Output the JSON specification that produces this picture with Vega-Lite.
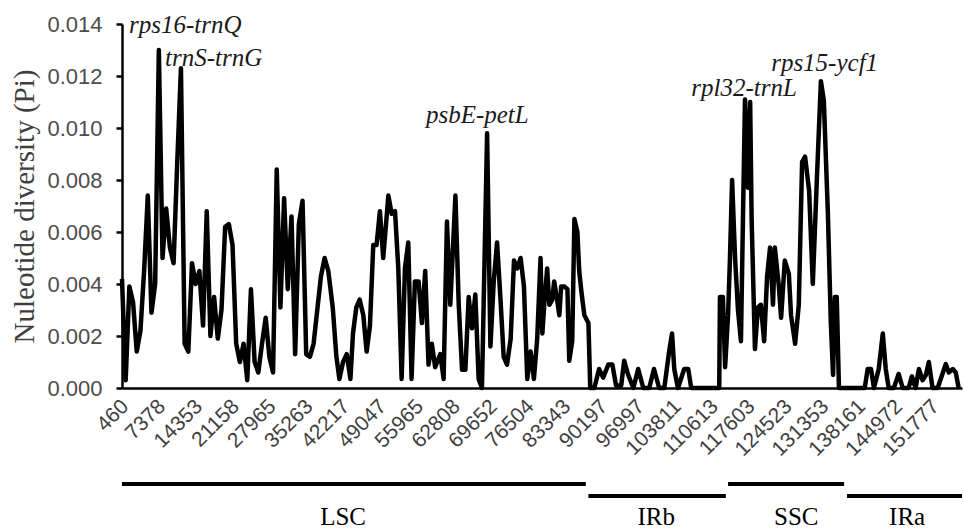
{
  "$schema": "https://vega.github.io/schema/vega-lite/v6.json",
  "background": "white",
  "padding": {"left": 10, "top": 12, "right": 0, "bottom": 0},
  "config": {"view": {"stroke": null}, "font": "Liberation Sans"},
  "spacing": 96,
  "bounds": "flush",
  "vconcat": [
    {
      "width": 840,
      "height": 364,
      "layer": [
        {
          "data": {"values": [
            {"w":0,"pi":0.0042},{"w":1,"pi":0.0003},{"w":2,"pi":0.0039},{"w":3,"pi":0.0033},{"w":4,"pi":0.0014},{"w":5,"pi":0.0022},{"w":6,"pi":0.0045},{"w":7,"pi":0.0074},{"w":8,"pi":0.0029},{"w":9,"pi":0.0040},
            {"w":10,"pi":0.0130},{"w":11,"pi":0.0050},{"w":12,"pi":0.0069},{"w":13,"pi":0.0054},{"w":14,"pi":0.0048},{"w":15,"pi":0.0087},{"w":16,"pi":0.0123},{"w":17,"pi":0.0017},{"w":18,"pi":0.0014},{"w":19,"pi":0.0048},
            {"w":20,"pi":0.0040},{"w":21,"pi":0.0045},{"w":22,"pi":0.0024},{"w":23,"pi":0.0068},{"w":24,"pi":0.0020},{"w":25,"pi":0.0035},{"w":26,"pi":0.0019},{"w":27,"pi":0.0030},{"w":28,"pi":0.0062},{"w":29,"pi":0.0063},
            {"w":30,"pi":0.0055},{"w":31,"pi":0.0017},{"w":32,"pi":0.0010},{"w":33,"pi":0.0017},{"w":34,"pi":0.0003},{"w":35,"pi":0.0038},{"w":36,"pi":0.0010},{"w":37,"pi":0.0006},{"w":38,"pi":0.0017},{"w":39,"pi":0.0027},
            {"w":40,"pi":0.0012},{"w":41,"pi":0.0006},{"w":42,"pi":0.0084},{"w":43,"pi":0.0031},{"w":44,"pi":0.0073},{"w":45,"pi":0.0038},{"w":46,"pi":0.0066},{"w":47,"pi":0.0013},{"w":48,"pi":0.0063},{"w":49,"pi":0.0072},
            {"w":50,"pi":0.0013},{"w":51,"pi":0.0012},{"w":52,"pi":0.0017},{"w":53,"pi":0.0030},{"w":54,"pi":0.0043},{"w":55,"pi":0.0050},{"w":56,"pi":0.0045},{"w":57.2,"pi":0.0031},{"w":58.2,"pi":0.0012},{"w":59,"pi":0.00035},
            {"w":60,"pi":0.0010},{"w":61,"pi":0.0013},{"w":62,"pi":0.00035},{"w":62.7,"pi":0.0021},{"w":63.6,"pi":0.0031},{"w":64.5,"pi":0.0034},{"w":65.5,"pi":0.0028},{"w":66.4,"pi":0.0014},{"w":67.3,"pi":0.0024},{"w":68.2,"pi":0.0055},
            {"w":69.1,"pi":0.0055},{"w":70,"pi":0.0068},{"w":70.9,"pi":0.0050},{"w":72.3,"pi":0.0074},{"w":73.2,"pi":0.0067},{"w":74.1,"pi":0.0068},{"w":75,"pi":0.0046},{"w":75.9,"pi":0.00035},{"w":76.8,"pi":0.0046},{"w":77.7,"pi":0.0056},
            {"w":78.6,"pi":0.00035},{"w":79.5,"pi":0.0041},{"w":80.5,"pi":0.0041},{"w":81.4,"pi":0.0025},{"w":82.3,"pi":0.0045},{"w":83.2,"pi":0.0009},{"w":84.1,"pi":0.0017},{"w":85,"pi":0.0008},{"w":86.4,"pi":0.0013},{"w":87.3,"pi":0.00035},
            {"w":88.2,"pi":0.0064},{"w":89.1,"pi":0.0032},{"w":90.5,"pi":0.0074},{"w":91.4,"pi":0.0032},{"w":92.3,"pi":0.0007},{"w":93.2,"pi":0.0007},{"w":94.1,"pi":0.0035},{"w":95,"pi":0.0023},{"w":95.9,"pi":0.0036},{"w":96.8,"pi":0.00035},
            {"w":97.7,"pi":0.0},{"w":99.1,"pi":0.0098},{"w":100,"pi":0.0016},{"w":100.9,"pi":0.0041},{"w":101.8,"pi":0.0056},{"w":102.7,"pi":0.0035},{"w":103.6,"pi":0.0012},{"w":104.5,"pi":0.0009},{"w":105.5,"pi":0.0019},{"w":106.4,"pi":0.0049},
            {"w":107.3,"pi":0.0046},{"w":108.2,"pi":0.0050},{"w":109.1,"pi":0.0039},{"w":110,"pi":0.00035},{"w":110.9,"pi":0.0014},{"w":111.8,"pi":0.00035},{"w":112.7,"pi":0.0019},{"w":113.6,"pi":0.0050},{"w":114.1,"pi":0.0021},{"w":114.6,"pi":0.0032},
            {"w":115.4,"pi":0.0046},{"w":116,"pi":0.0032},{"w":116.8,"pi":0.0034},{"w":117.3,"pi":0.0041},{"w":118.2,"pi":0.0033},{"w":118.7,"pi":0.0028},{"w":119.2,"pi":0.0039},{"w":120.1,"pi":0.0039},{"w":120.9,"pi":0.0038},{"w":121.4,"pi":0.00105},
            {"w":122.2,"pi":0.0018},{"w":122.8,"pi":0.0065},{"w":123.6,"pi":0.0060},{"w":124.1,"pi":0.0045},{"w":124.7,"pi":0.0037},{"w":125.5,"pi":0.0028},{"w":126.6,"pi":0.0025},{"w":127.1,"pi":0.0},{"w":128.2,"pi":0.0},{"w":129.5,"pi":0.00073},
            {"w":130.6,"pi":0.0004},{"w":132,"pi":0.0009},{"w":133.1,"pi":0.0009},{"w":134.1,"pi":0.0001},{"w":135.5,"pi":0.0001},{"w":136.3,"pi":0.00105},{"w":137.4,"pi":0.0005},{"w":138.8,"pi":0.0},{"w":140.1,"pi":0.00073},{"w":141.5,"pi":0.0},
            {"w":143.1,"pi":0.0},{"w":144.4,"pi":0.00073},{"w":145.8,"pi":0.0},{"w":147.2,"pi":0.0},{"w":148.5,"pi":0.0014},{"w":149.3,"pi":0.0021},{"w":149.9,"pi":0.00073},{"w":150.9,"pi":0.0},{"w":152.6,"pi":0.00073},{"w":153.7,"pi":0.00073},
            {"w":154.5,"pi":0.0},{"w":162.1,"pi":0.0},{"w":162.3,"pi":0.0035},{"w":163.1,"pi":0.0035},{"w":163.7,"pi":0.0008},{"w":164.5,"pi":0.0028},{"w":165,"pi":0.0049},{"w":165.6,"pi":0.0080},{"w":166.4,"pi":0.0050},{"w":167.2,"pi":0.0030},
            {"w":168,"pi":0.0018},{"w":168.6,"pi":0.0070},{"w":169.1,"pi":0.0111},{"w":169.9,"pi":0.0077},{"w":170.5,"pi":0.0110},{"w":170.9,"pi":0.0065},{"w":171.8,"pi":0.0015},{"w":172.6,"pi":0.0031},{"w":173.4,"pi":0.0032},{"w":174.3,"pi":0.0018},
            {"w":175.1,"pi":0.0043},{"w":175.9,"pi":0.0054},{"w":176.7,"pi":0.0032},{"w":177.2,"pi":0.0054},{"w":178.3,"pi":0.0039},{"w":178.9,"pi":0.0027},{"w":179.9,"pi":0.0049},{"w":181,"pi":0.0044},{"w":181.6,"pi":0.0028},{"w":182.7,"pi":0.0017},
            {"w":183.7,"pi":0.0032},{"w":184.6,"pi":0.0087},{"w":185.4,"pi":0.0089},{"w":186.5,"pi":0.0076},{"w":187.5,"pi":0.0040},{"w":188.6,"pi":0.0080},{"w":189.7,"pi":0.0118},{"w":190.5,"pi":0.01105},{"w":191.6,"pi":0.0067},{"w":192.4,"pi":0.0025},
            {"w":193,"pi":0.0005},{"w":193.5,"pi":0.0035},{"w":194,"pi":0.0035},{"w":194.6,"pi":0.0},{"w":201.6,"pi":0.0},{"w":202.4,"pi":0.00073},{"w":203.3,"pi":0.00073},{"w":204.1,"pi":0.0},{"w":205.4,"pi":0.00073},{"w":206.5,"pi":0.0021},
            {"w":207.3,"pi":0.00073},{"w":208.1,"pi":0.0},{"w":209.5,"pi":0.0},{"w":210.8,"pi":0.00054},{"w":211.9,"pi":0.0},{"w":213.5,"pi":0.0},{"w":214.4,"pi":0.00045},{"w":215.4,"pi":0.0},{"w":216.3,"pi":0.00073},{"w":217.3,"pi":0.0003},
            {"w":218.2,"pi":0.0005},{"w":219,"pi":0.0010},{"w":220,"pi":0.0},{"w":221.4,"pi":0.0},{"w":223.6,"pi":0.00092},{"w":224.4,"pi":0.0006},{"w":225.5,"pi":0.00073},{"w":226.3,"pi":0.0006},{"w":227.1,"pi":0.0}
          ]},
          "mark": {"type": "line", "color": "black", "strokeWidth": 4.5, "strokeJoin": "round"},
          "encoding": {
            "x": {
              "field": "w", "type": "quantitative",
              "scale": {"domain": [0, 228], "nice": false, "zero": false},
              "axis": {
                "values": [0,10,20,30,40,50,60,70,80,90,100,110,120,130,140,150,160,170,180,190,200,210,220],
                "tickCount": 40,
                "labelExpr": "['460','7378','14353','21158','27965','35263','42217','49047','55965','62808','69652','76504','83343','90197','96997','103811','110613','117603','124523','131353','138161','144972','151777'][round(datum.value/10)]",
                "labelAngle": -45, "labelAlign": "right", "labelBaseline": "middle",
                "labelFont": "Liberation Sans", "labelFontSize": 21, "labelColor": "#3f3f3f",
                "labelPadding": 15, "labelOffset": 3, "labelOverlap": false, "labelFlush": false, "labelBound": false,
                "ticks": false, "domainColor": "black", "domainWidth": 2.5, "grid": false, "title": null
              }
            },
            "y": {
              "field": "pi", "type": "quantitative",
              "scale": {"domain": [0, 0.014], "nice": false},
              "axis": {
                "values": [0,0.002,0.004,0.006,0.008,0.010,0.012,0.014],
                "format": ".3f",
                "title": "Nuleotide diversity (Pi)",
                "titleFont": "Liberation Serif", "titleFontSize": 29, "titleFontWeight": "normal", "titleColor": "#3f3f3f", "titlePadding": 7,
                "labelFont": "Liberation Sans", "labelFontSize": 22, "labelColor": "#4d4d4d", "labelPadding": 14,
                "tickSize": 6, "tickWidth": 2.5, "tickColor": "black",
                "domainColor": "black", "domainWidth": 2.5, "grid": false
              }
            }
          }
        },
        {
          "data": {"values": [
            {"label": "rps16-trnQ", "w": 1.9, "pi": 0.013654},
            {"label": "trnS-trnG", "w": 11.67, "pi": 0.012385},
            {"label": "psbE-petL", "w": 82.5, "pi": 0.010192},
            {"label": "rpl32-trnL", "w": 154.5, "pi": 0.011231},
            {"label": "rps15-ycf1", "w": 176.2, "pi": 0.012192}
          ]},
          "mark": {"type": "text", "align": "left", "baseline": "alphabetic", "font": "Liberation Serif", "fontStyle": "italic", "fontSize": 25, "color": "#1a1a1a"},
          "encoding": {
            "x": {"field": "w", "type": "quantitative"},
            "y": {"field": "pi", "type": "quantitative"},
            "text": {"field": "label"}
          }
        }
      ]
    },
    {
      "width": 840,
      "height": 24,
      "data": {"values": [
        {"region": "LSC", "start": 0, "end": 125.9, "track": "upper", "labelPos": 60},
        {"region": "IRb", "start": 126.6, "end": 163.9, "track": "lower", "labelPos": 145},
        {"region": "SSC", "start": 164.5, "end": 196, "track": "upper", "labelPos": 183},
        {"region": "IRa", "start": 196.8, "end": 228, "track": "lower", "labelPos": 213.1}
      ]},
      "layer": [
        {
          "mark": {"type": "rule", "strokeWidth": 4, "color": "black"},
          "encoding": {
            "x": {"field": "start", "type": "quantitative", "scale": {"domain": [0, 228], "nice": false, "zero": false}, "axis": null},
            "x2": {"field": "end"},
            "y": {"field": "track", "type": "ordinal", "scale": {"type": "point", "domain": ["upper", "lower", "label"], "padding": 0}, "axis": null}
          }
        },
        {
          "mark": {"type": "text", "baseline": "top", "align": "center", "dy": -3, "font": "Liberation Serif", "fontSize": 25, "color": "black"},
          "encoding": {
            "x": {"field": "labelPos", "type": "quantitative"},
            "y": {"datum": "label", "type": "ordinal"},
            "text": {"field": "region"}
          }
        }
      ]
    }
  ]
}
